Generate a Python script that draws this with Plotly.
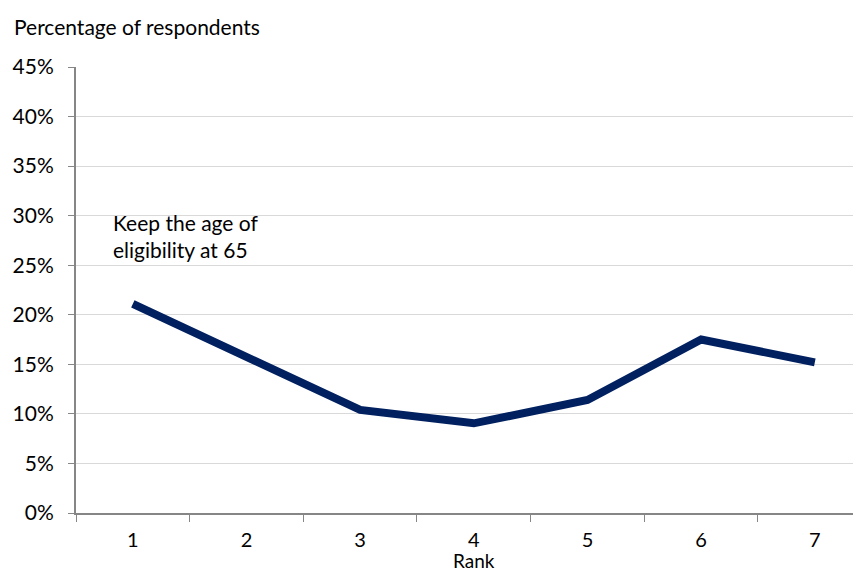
import plotly.graph_objects as go

ranks = ["1", "2", "3", "4", "5", "6", "7"]
share = [0.211, 0.158, 0.104, 0.0905, 0.114, 0.175, 0.152]
y_ticks = [0, 0.05, 0.10, 0.15, 0.20, 0.25, 0.30, 0.35, 0.40, 0.45]
note = "Keep the age of<br>eligibility at 65"

font = "Lato, Open Sans, sans-serif"

fig = go.Figure(go.Scatter(
    x=ranks, y=share, mode="lines",
    line=dict(color="#002060", width=8),
    showlegend=False, hoverinfo="skip"))

# series label inside the plot
fig.add_annotation(x=-0.19, y=0.279, xref="x", yref="y", text=note,
                   showarrow=False, xanchor="left", yanchor="middle", align="left",
                   font=dict(size=21, color="#000000", family=font))

# y axis caption above the plot
fig.add_annotation(x=-0.0818, y=1.0897, xref="paper", yref="paper",
                   text="Percentage of respondents", showarrow=False,
                   xanchor="left", yanchor="middle",
                   font=dict(size=21, color="#000000", family=font))

# x axis caption, under category "4" (index 3)
fig.add_annotation(x=3, y=-0.1368, xref="x", yref="paper",
                   text="Rank", showarrow=False,
                   xanchor="center", yanchor="bottom",
                   font=dict(size=19, color="#000000", family=font))

# page body has an 8px margin, so the figure is a bit smaller
fig.update_layout(
    width=853, height=566,
    margin=dict(l=68, r=3, t=59, b=61),
    paper_bgcolor="white", plot_bgcolor="white",
    font=dict(family=font, size=21, color="#000000"),
    xaxis=dict(type="category", range=[-0.5, 6.38], tickson="boundaries",
               ticks="outside", ticklen=7, tickcolor="#868686",
               showline=True, linecolor="#868686", linewidth=2,
               showgrid=False, ticklabelstandoff=8,
               tickfont=dict(size=20)),
    yaxis=dict(range=[0, 0.45], tickvals=y_ticks, tickformat=".0%",
               ticks="outside", ticklen=6, tickcolor="#868686",
               showline=True, linecolor="#868686", linewidth=2,
               gridcolor="#D9D9D9", gridwidth=1, zeroline=False,
               ticklabelstandoff=10),
)

fig.write_html("out.html")
